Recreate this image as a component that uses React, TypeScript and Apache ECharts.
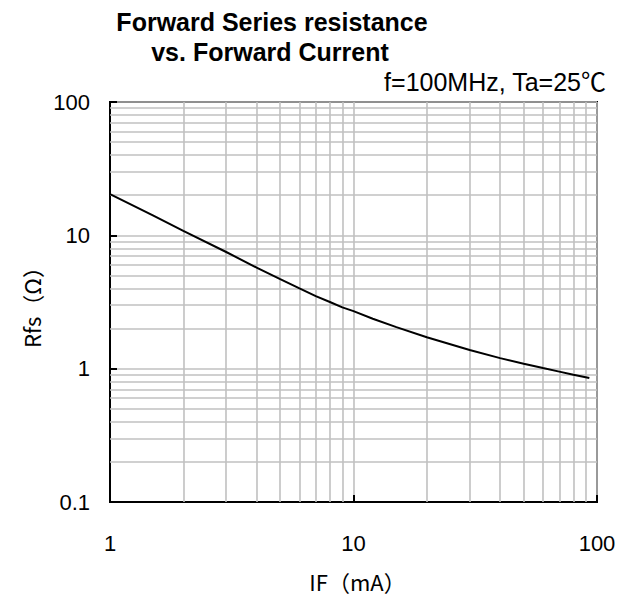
import React, { useEffect, useRef } from "react";
import * as echarts from "echarts";

const currentMA = [1, 1.5, 2, 3, 4, 5, 6, 7, 8, 9, 10, 12, 15, 20, 30, 40, 50, 60, 70, 80, 93];
const resistance = [20.4, 14.1, 10.8, 7.5, 5.73, 4.69, 4.0, 3.5, 3.16, 2.88, 2.7, 2.37, 2.05, 1.72, 1.38, 1.2, 1.09, 1.01, 0.95, 0.9, 0.85];
const xMinorGrid = [2, 3, 4, 5, 6, 7, 8, 9, 20, 30, 40, 50, 60, 70, 80, 90];
const yMinorGrid = [0.2, 0.3, 0.4, 0.5, 0.6, 0.7, 0.8, 0.9, 2, 3, 4, 5, 6, 7, 8, 9, 20, 30, 40, 50, 60, 70, 80, 90];
const titleLines = ["Forward Series resistance", "vs. Forward Current"];
const conditionText = "f=100MHz, Ta=25℃";
const xName = "IF（mA）";
const yName = "Rfs（Ω）";

const FONT = "'Liberation Sans', Arial, 'Noto Sans CJK JP', sans-serif";
const CJK = "'Noto Sans CJK JP', sans-serif";
const GRID = "#c0c0c0";

export default function App() {
  const ref = useRef<HTMLDivElement>(null);
  useEffect(() => {
    if (!ref.current) return;
    const chart = echarts.init(ref.current, undefined, { renderer: "svg" });
    const gridLine = { color: GRID, width: 1.6, type: "solid" as const };
    chart.setOption({
      animation: false,
      backgroundColor: "#ffffff",
      textStyle: { fontFamily: FONT },
      graphic: [
        {
          type: "text",
          x: 272,
          y: 22,
          style: { text: titleLines[0], fill: "#000", font: `bold 25px ${FONT}`, align: "center", verticalAlign: "middle" },
        },
        {
          type: "text",
          x: 270,
          y: 52,
          style: { text: titleLines[1], fill: "#000", font: `bold 25px ${FONT}`, align: "center", verticalAlign: "middle" },
        },
        {
          type: "text",
          x: 606,
          y: 82,
          style: { text: conditionText, fill: "#000", font: `25px ${FONT}`, align: "right", verticalAlign: "middle" },
        },
      ],
      grid: {
        left: 110,
        right: 26,
        top: 102,
        bottom: 96,
        show: true,
        borderColor: "#000",
        borderWidth: 2,
        backgroundColor: "transparent",
      },
      xAxis: {
        type: "log",
        logBase: 10,
        min: 1,
        max: 100,
        name: xName,
        nameLocation: "middle",
        nameGap: 68,
        nameTextStyle: { fontSize: 22, color: "#000", fontFamily: CJK, padding: [0, 0, 0, 8] },
        axisLine: { show: true, lineStyle: { color: "#000", width: 2 } },
        axisTick: { show: true, inside: true, length: 7, lineStyle: { color: "#000", width: 2 } },
        axisLabel: { fontSize: 22, color: "#000", margin: 30 },
        splitLine: { show: true, lineStyle: gridLine },
      },
      yAxis: {
        type: "log",
        logBase: 10,
        min: 0.1,
        max: 100,
        name: yName,
        nameLocation: "middle",
        nameGap: 66,
        nameRotate: 90,
        nameTextStyle: { fontSize: 22, color: "#000", fontFamily: CJK },
        axisLine: { show: true, lineStyle: { color: "#000", width: 2 } },
        axisTick: { show: true, inside: true, length: 7, lineStyle: { color: "#000", width: 2 } },
        axisLabel: { fontSize: 22, color: "#000", margin: 20 },
        splitLine: { show: true, lineStyle: gridLine },
      },
      series: [
        {
          type: "line",
          data: currentMA.map((x, i) => [x, resistance[i]]),
          showSymbol: false,
          smooth: false,
          lineStyle: { color: "#000", width: 2 },
          z: 5,
          markLine: {
            silent: true,
            symbol: "none",
            label: { show: false },
            lineStyle: gridLine,
            z: 1,
            data: [
              ...xMinorGrid.map((v) => ({ xAxis: v })),
              ...yMinorGrid.map((v) => ({ yAxis: v })),
            ],
          },
        },
      ],
    });
    return () => chart.dispose();
  }, []);
  return <div ref={ref} style={{ position: "fixed", left: 0, top: 0, width: 623, height: 598 }} />;
}
